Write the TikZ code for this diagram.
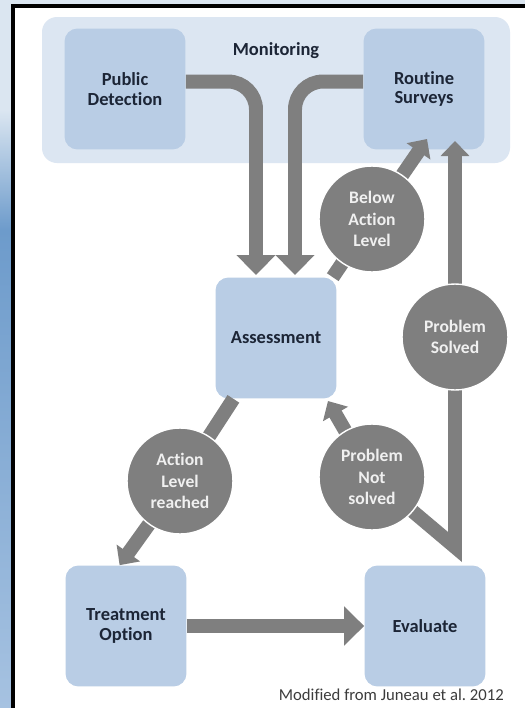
\documentclass[tikz,border=0pt]{standalone}
\usepackage{fontspec}
\setmainfont{Carlito}[Ligatures=NoCommon]
\usetikzlibrary{arrows.meta,positioning,calc}
\definecolor{bandblue}{HTML}{DCE6F2}
\definecolor{boxblue}{HTML}{B9CDE5}
\definecolor{flowgray}{HTML}{7F7F7F}
\definecolor{inkblue}{HTML}{1C2536}
\definecolor{stripcap}{HTML}{DBE6F1}
\definecolor{stripblue}{HTML}{6D9BCB}
\definecolor{striplow}{HTML}{A6C2E1}
\definecolor{creditgray}{HTML}{3C3C3C}
\pgfdeclarelayer{back}
\pgfdeclarelayer{mid}
\pgfsetlayers{back,mid,main}
\frenchspacing

\begin{document}
\begin{tikzpicture}[x=0.02cm,y=-0.02cm,
 box/.style={fill=#1,rounded corners=0.26cm,align=center,text=inkblue,
  minimum width=2.42cm,minimum height=2.42cm,inner sep=2pt,
  font=\fontsize{10.5}{11}\selectfont\bfseries},
 box/.default=boxblue,
 choice/.style={circle,fill=flowgray,draw=white,line width=0.8pt,align=center,
  minimum size=2.12cm,inner sep=0pt,text=white!94!black,
  font=\fontsize{10}{12.3}\selectfont\bfseries},
 flow/.style={draw=flowgray,line width=0.28cm},
 bigtip/.style={-{Triangle[width=0.76cm,length=0.4cm]}},
 smalltip/.style={-{Triangle[width=0.56cm,length=0.3cm]}}]
\useasboundingbox (0,0) rectangle (525,708);
\begin{pgfonlayer}{back}
\fill[stripcap] (0,0) rectangle (525,708);
\shade[top color=stripcap,bottom color=stripblue] (0,110) rectangle (12,230);
\shade[top color=stripblue,bottom color=striplow] (0,230) rectangle (12,708);
\filldraw[fill=white,line width=0.07cm] (13,6) rectangle (560,760);
\fill[bandblue,rounded corners=0.3cm] (42,17) rectangle (510,163);
\node[text=inkblue,font=\fontsize{10.5}{11}\selectfont\bfseries] (mon) at (276,51) {Monitoring};
\node[box] (pub) at (125,89) {Public\\Detection};
\node[box] (rout) at (424,89) {Routine\\Surveys};
\node[box] (assess) at (276,338) {Assessment};
\node[box] (treat) at (126,626) {Treatment\\Option};
\node[box] (eval) at (425,626) {Evaluate};
\end{pgfonlayer}
\node[choice] (below) at (372,219) {Below\\Action\\Level};
\node[choice] (solved) at (455,337) {Problem\\Solved};
\node[choice] (notsolved) at (372,477) {Problem\\Not\\solved};
\node[choice] (action) at (180,481) {Action\\Level\\reached};
\coordinate (pubtip) at (256,275);
\coordinate (routtip) at (295,275);
\coordinate (belowtip) at (427,139);
\coordinate (solvedtip) at (455,141);
\coordinate (backtip) at (328,401);
\coordinate (fork) at (455,547);
\begin{pgfonlayer}{mid}
\draw[flow,bigtip,rounded corners=0.56cm] (pub.7) -| (pubtip);
\draw[flow,bigtip,rounded corners=0.56cm] (rout.173) -| (routtip);
\draw[flow,bigtip] (treat) -- (eval);
\draw[flow,smalltip] (assess.47) -- (below.center) -- (belowtip);
\draw[flow,smalltip] (assess.235) -- (action.center) -- (treat.96);
\draw[flow,line join=miter,{Triangle[width=0.56cm,length=0.3cm]}-{Triangle[width=0.56cm,length=0.3cm]}]
 (backtip) -- (notsolved.center) -- (fork) -- (solved.center) -- (solvedtip);
\end{pgfonlayer}
\node[anchor=base east,text=creditgray,font=\fontsize{9.5}{11}\selectfont] (credit) at (510,700) {Modified from Juneau et al. 2012};
\end{tikzpicture}
\end{document}
